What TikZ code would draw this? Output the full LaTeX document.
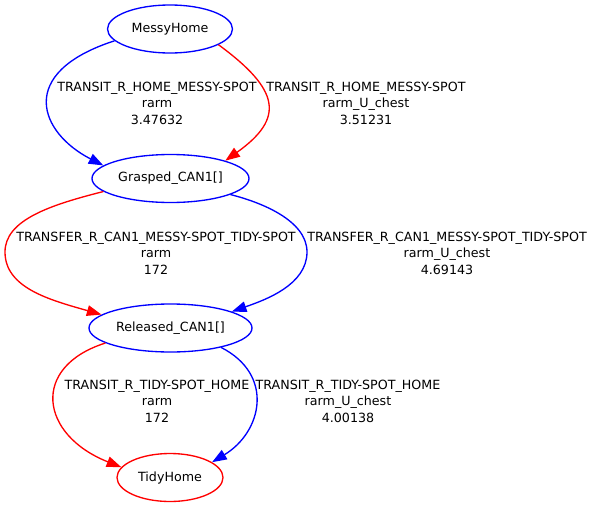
\documentclass[tikz,border=0pt]{standalone}
\usepackage{fontspec}
\setmainfont{DejaVu Sans}
\usepackage{tikz}
\usetikzlibrary{shapes.geometric,arrows.meta,positioning}

\begin{document}
\begin{tikzpicture}[x=0.75pt,y=-0.75pt,
  bstate/.style={ellipse,draw=blue,line width=1pt,inner sep=0pt,minimum height=36pt,font=\fontsize{9.5}{12.4}\selectfont},
  rstate/.style={ellipse,draw=red,line width=1pt,inner sep=0pt,minimum height=36pt,font=\fontsize{9.5}{12.4}\selectfont},
  elbl/.style={align=center,inner sep=0pt,font=\fontsize{9.5}{12.4}\selectfont},
  bedge/.style={blue,line width=1pt,-{Triangle[length=11pt,width=8pt]}},
  redge/.style={red,line width=1pt,-{Triangle[length=11pt,width=8pt]}},
]
  \useasboundingbox (0,0) rectangle (593,507);
  % states
  \node[bstate,minimum width=93.75pt]  (messy)    at (170,29)      {MessyHome};
  \node[bstate,minimum width=117.75pt] (grasped)  at (170.5,178.5) {Grasped\_CAN1[]};
  \node[bstate,minimum width=122.25pt] (released) at (170.5,328)   {Released\_CAN1[]};
  \node[rstate,minimum width=79.5pt]   (tidy)     at (170,477.5)   {TidyHome};
  % transitions
  \draw[bedge] (messy.192) .. controls (15,73) and (40,133) .. (grasped.169);
  \draw[redge] (messy.342) .. controls (280,90) and (285,118) .. (grasped.18);
  \draw[redge] (grasped.191) .. controls (50,205) and (5,220) .. (5,252)
    .. controls (5,288) and (50,300) .. (released.169);
  \draw[bedge] (grasped.345) .. controls (260,202) and (307,220) .. (307,252)
    .. controls (307,285) and (265,300) .. (released.15);
  \draw[redge] (released.193) .. controls (30,367) and (40,435) .. (tidy.168);
  \draw[bedge] (released.339) .. controls (275,375) and (262,432) .. (tidy.20);
  % labels
  \node[elbl] (l1) at (157,103) {TRANSIT\_R\_HOME\_MESSY-SPOT\\rarm\\3.47632};
  \node[elbl] (l2) at (366,103) {TRANSIT\_R\_HOME\_MESSY-SPOT\\rarm\_U\_chest\\3.51231};
  \node[elbl] (l3) at (156,253) {TRANSFER\_R\_CAN1\_MESSY-SPOT\_TIDY-SPOT\\rarm\\172};
  \node[elbl] (l4) at (447,253) {TRANSFER\_R\_CAN1\_MESSY-SPOT\_TIDY-SPOT\\rarm\_U\_chest\\4.69143};
  \node[elbl] (l5) at (157,401) {TRANSIT\_R\_TIDY-SPOT\_HOME\\rarm\\172};
  \node[elbl] (l6) at (348,401) {TRANSIT\_R\_TIDY-SPOT\_HOME\\rarm\_U\_chest\\4.00138};
\end{tikzpicture}
\end{document}
